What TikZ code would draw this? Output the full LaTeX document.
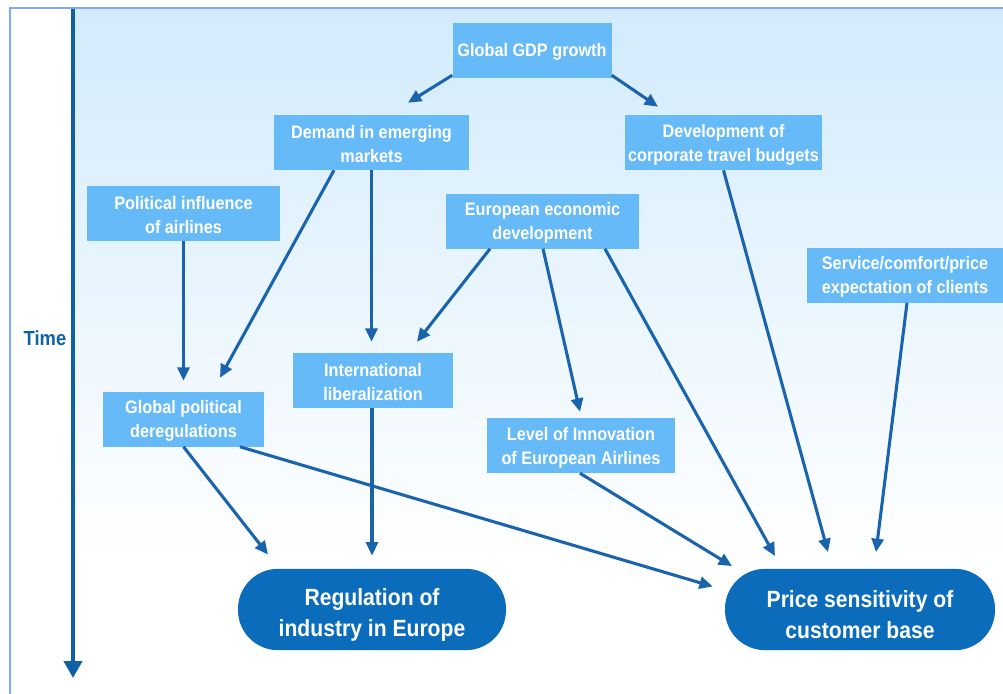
\documentclass[tikz,border=0pt]{standalone}
\usepackage{fontspec}
\setmainfont{Liberation Sans}[FakeStretch=0.9]
\usetikzlibrary{arrows.meta,calc}
\definecolor{boxfill}{HTML}{67BAF8}
\definecolor{ovalfill}{HTML}{0A6CBA}
\definecolor{arrc}{HTML}{1A64AE}
\definecolor{axisc}{HTML}{1060A6}
\definecolor{framec}{HTML}{7FA8FA}
\definecolor{bgtop}{HTML}{D2EBFD}
\tikzset{
  box/.style={draw=none, fill=boxfill, inner sep=0pt, minimum height=41.25pt},
  boxtext/.style={text=white, align=center, inner sep=0pt,
    font=\bfseries\fontsize{13.55pt}{18pt}\selectfont},
  oval/.style={draw=none, fill=ovalfill, inner sep=0pt,
    rounded corners=30pt, minimum height=61pt},
  ovaltext/.style={text=white, align=center, inner sep=0pt,
    font=\bfseries\fontsize{17.6pt}{23.3pt}\selectfont},
  arr/.style={draw=arrc, line width=2.3pt, -{Triangle[length=10pt,width=9pt]}},
  timeaxis/.style={draw=axisc, line width=3pt, -{Triangle[length=12.75pt,width=13.5pt]}},
}
\begin{document}
\begin{tikzpicture}[x=0.75pt,y=-0.75pt]
\useasboundingbox (0,0) rectangle (1003,693);
\fill[white] (0,0) rectangle (1003,693);
\shade[top color=bgtop, bottom color=white] (75,9) rectangle (1003,560);
\draw[framec, line width=1.5pt] (10,700) -- (10,8) -- (1010,8);

% time axis
\coordinate (tstart) at (73,9);
\coordinate (tend) at (73,678);
\draw[timeaxis] (tstart) -- (tend);
\node[text=axisc, font=\bfseries\fontsize{15.3pt}{18pt}\selectfont] (time) at (45,338) {Time};

% boxes
\node[box, minimum width=119.25pt] (gdp) at (532,50.5) {};
\node[boxtext] (gdpt) at ($(gdp)+(0,1)$) {Global GDP growth};
\node[box, minimum width=146.25pt] (dem) at (371.5,142.5) {};
\node[boxtext] (demt) at ($(dem)+(0,2)$) {Demand in emerging\\markets};
\node[box, minimum width=147.75pt] (corp) at (723.5,142.5) {};
\node[boxtext] (corpt) at ($(corp)+(0,2)$) {Development of\\corporate travel budgets};
\node[box, minimum width=144.75pt] (pol) at (183.5,213) {};
\node[boxtext] (polt) at ($(pol)+(0,2)$) {Political influence\\of airlines};
\node[box, minimum width=144.75pt] (eur) at (542.5,221) {};
\node[boxtext] (eurt) at ($(eur)+(0,2)$) {European economic\\development};
\node[box, minimum width=147pt] (serv) at (905,275) {};
\node[boxtext] (servt) at ($(serv)+(0,2)$) {Service/comfort/price\\expectation of clients};
\node[box, minimum width=120pt] (intl) at (373,380.5) {};
\node[boxtext] (intlt) at ($(intl)+(0,2)$) {International\\liberalization};
\node[box, minimum width=120.75pt] (glob) at (183.5,419) {};
\node[boxtext] (globt) at ($(glob)+(0,2)$) {Global political\\deregulations};
\node[box, minimum width=141pt] (lev) at (581,445.5) {};
\node[boxtext] (levt) at ($(lev)+(0,2)$) {Level of Innovation\\of European Airlines};

\node[oval, minimum width=201pt] (reg) at (372,609.5) {};
\node[ovaltext] (regt) at ($(reg)+(0,5)$) {Regulation of\\industry in Europe};
\node[oval, minimum width=202.5pt] (price) at (860,609.5) {};
\node[ovaltext] (pricet) at ($(price)+(0,5)$) {Price sensitivity of\\customer base};

% arrows
\draw[arr] ($(gdp.south west)+(0,-3)$) -- ($(dem.north)+(36.5,-12)$);
\draw[arr] ($(gdp.south east)+(0,-3)$) -- ($(corp.north)+(-65.5,-8)$);
\draw[arr] ($(dem.south)+(-37.5,0)$) -- ($(glob.north)+(36.5,-13.5)$);
\draw[arr] (dem.south) -- ($(intl.north)+(-1.5,-11)$);
\draw[arr] (pol.south) -- ($(glob.north)+(0,-10.5)$);
\draw[arr] ($(eur.south)+(-52.5,0)$) -- ($(intl.north)+(44,-11)$);
\draw[arr] ($(eur.south)+(0.5,0)$) -- ($(lev.north)+(-1,-6)$);
\draw[arr] ($(eur.south)+(62.5,0)$) -- ($(price.north)+(-85,-12.5)$);
\draw[arr] (corp.south) -- ($(price.north)+(-32,-16.5)$);
\draw[arr] ($(serv.south)+(2,0)$) -- ($(price.north)+(16,-16.5)$);
\draw[arr] ($(intl.south)+(-1,0)$) -- ($(reg.north)+(0,-13)$);
\draw[arr] (glob.south) -- ($(reg.north)+(-104,-14)$);
\draw[arr] ($(glob.south)+(56.5,0)$) -- ($(price.west)+(-12,-23)$);
\draw[arr] ($(lev.south)+(-1,0)$) -- ($(price.north)+(-128,-2.5)$);
\end{tikzpicture}
\end{document}
